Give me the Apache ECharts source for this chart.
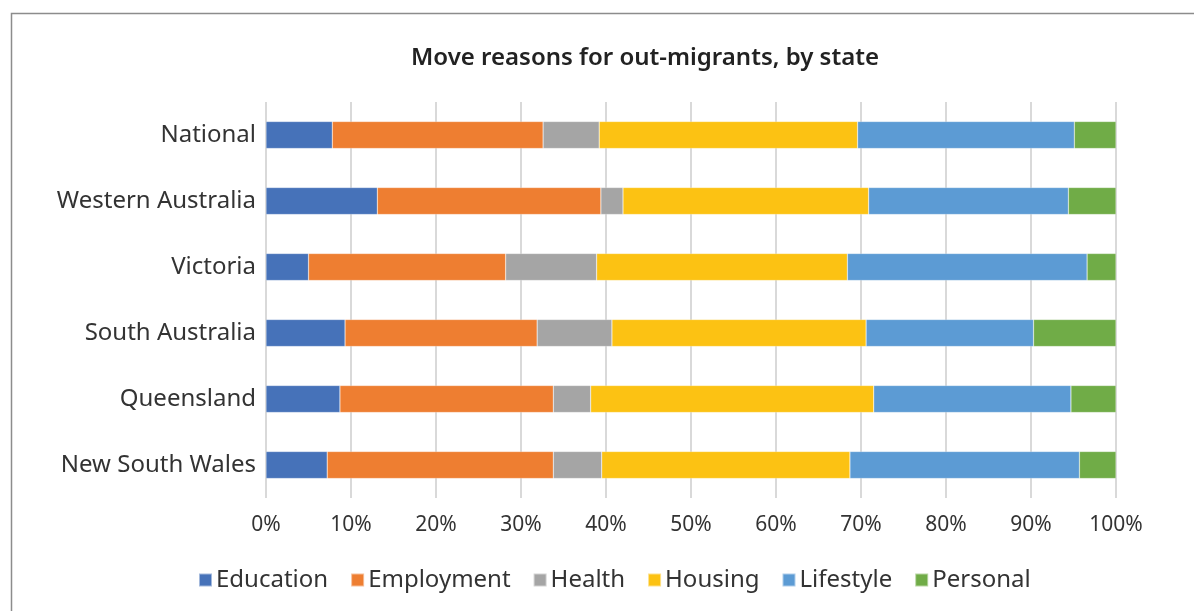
<!DOCTYPE html>
<html>
<head>
<meta charset="utf-8">
<script src="https://cdn.jsdelivr.net/npm/echarts@6/dist/echarts.min.js"></script>
<style>
html,body{margin:0;padding:0;background:#fff;}
#c{width:1194px;height:611px;}
</style>
</head>
<body>
<div id="c"></div>
<script>
const categories = ['New South Wales','Queensland','South Australia','Victoria','Western Australia','National'];
const education  = [7.2, 8.7, 9.3, 5.0, 13.1, 7.8];
const employment = [26.6, 25.1, 22.6, 23.2, 26.3, 24.8];
const health     = [5.7, 4.4, 8.8, 10.7, 2.6, 6.6];
const housing    = [29.2, 33.3, 29.9, 29.5, 28.9, 30.4];
const lifestyle  = [27.0, 23.2, 19.7, 28.2, 23.5, 25.5];
const personal   = [4.3, 5.3, 9.7, 3.4, 5.6, 4.9];
const seriesNames = ['Education','Employment','Health','Housing','Lifestyle','Personal'];
const colors = ['#4672b9','#ee7e31','#a5a5a5','#fcc213','#5c9bd4','#70ac47'];
const xTicks = [0,10,20,30,40,50,60,70,80,90,100];

const font = 'Noto Sans';
const dataSets = [education, employment, health, housing, lifestyle, personal];
const chart = echarts.init(document.getElementById('c'), null, {renderer:'canvas'});
chart.setOption({
  animation:false,
  color: colors,
  title:{
    text:'Move reasons for out-migrants, by state',
    left: 640, top: 41, textAlign:'center',
    textStyle:{fontFamily:font, fontSize:24, fontWeight:600, color:'#222'}
  },
  graphic:[{
    type:'rect', left:9, top:11, shape:{x:0,y:0,width:1300,height:700},
    style:{fill:'none', stroke:'#8c8c8c', lineWidth:1.5}, silent:true, z:-1
  }],
  legend:{
    data: seriesNames,
    left:193, top:563,
    icon:'rect', itemWidth:13, itemHeight:13, itemGap:22,
    textStyle:{fontFamily:font, fontSize:24, color:'#333', padding:[0,0,0,-1]}
  },
  grid:{left:266, right:78, top:102, bottom:113},
  xAxis:{
    type:'value', min:0, max:100, interval:10,
    axisLabel:{formatter: v => xTicks.includes(v) ? v + '%' : '', fontFamily:font, fontSize:21, color:'#333', margin:17},
    splitLine:{lineStyle:{color:'#d9d9d9', width:2}},
    axisLine:{show:false}, axisTick:{show:false}
  },
  yAxis:{
    type:'category', data: categories,
    axisLabel:{fontFamily:font, fontSize:24, color:'#333', margin:10},
    axisLine:{show:false}, axisTick:{show:false}
  },
  series: seriesNames.map((n,i)=>({
    name:n, type:'bar', stack:'total', data: dataSets[i],
    barWidth:'41%',
    itemStyle:{borderColor:'rgba(255,255,255,0.5)', borderWidth:0.5}
  }))
});
</script>
</body>
</html>
